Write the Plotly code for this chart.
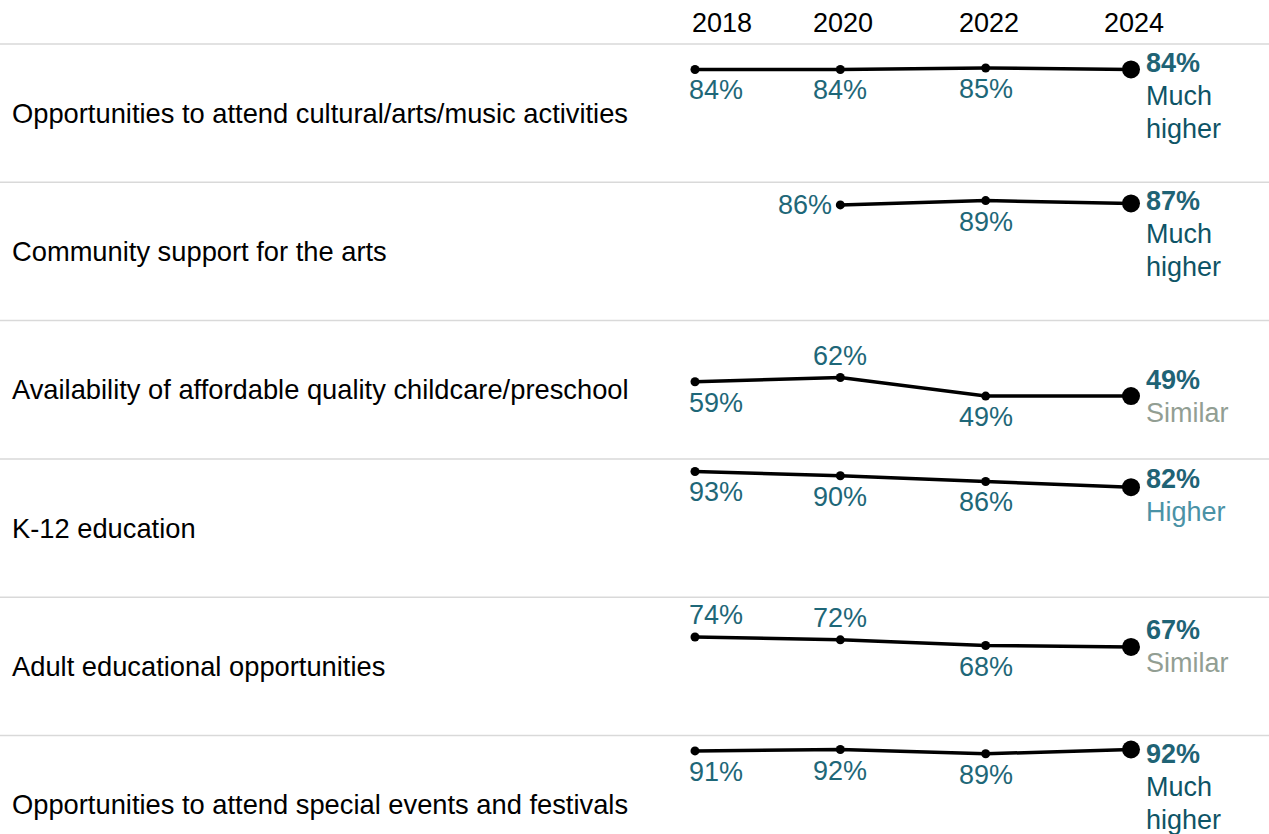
import plotly.graph_objects as go
from plotly.subplots import make_subplots

# ---- data ----
categories = [
    "Opportunities to attend cultural/arts/music activities",
    "Community support for the arts",
    "Availability of affordable quality childcare/preschool",
    "K-12 education",
    "Adult educational opportunities",
    "Opportunities to attend special events and festivals",
]
years = [2018, 2020, 2022, 2024]
vals_cultural = [84, 84, 85, 84]
vals_support = [None, 86, 89, 87]
vals_childcare = [59, 62, 49, 49]
vals_k12 = [93, 90, 86, 82]
vals_adult = [74, 72, 68, 67]
vals_events = [91, 92, 89, 92]
series = [vals_cultural, vals_support, vals_childcare, vals_k12, vals_adult, vals_events]
comparison = ["Much higher", "Much higher", "Similar", "Higher", "Similar", "Much higher"]

# ---- style ----
FONT = "Liberation Sans, Arial, sans-serif"
FS = 27
C_LABEL = "#1e6778"
C_VALUE = "#1f6375"
C_CMP = {"Much higher": "#0e5466", "Higher": "#4a92a6", "Similar": "#929e93"}
C_SEP = "#d9d9d9"

W, H = 1269, 834
TOP = 44
ROW_PX = 138.3
PX_PER_PCT = 1.43
V_TOP = 101.8
PLOT_H = H - TOP
row_px = [ROW_PX] * 5 + [PLOT_H - 5 * ROW_PX]

# where the older point labels sit relative to their dot
label_pos = [
    ["below", "below", "below"],
    [None, "left", "below"],
    ["below", "above", "below"],
    ["below", "below", "below"],
    ["above", "above", "below"],
    ["below", "below", "below"],
]
end_shift = [6, 2, 16, 8, 17, -4]

# x: 2018 at px 695, 2024 at px 1130
px_per_year = (1131 - 695) / 6
x0 = 2018 - 695 / px_per_year
x1 = x0 + W / px_per_year

fig = make_subplots(rows=6, cols=1, shared_xaxes=True, vertical_spacing=0,
                    row_heights=row_px)

for i, vals in enumerate(series):
    r = i + 1
    xs = [y for y, v in zip(years, vals) if v is not None]
    ys = [v for v in vals if v is not None]
    fig.add_trace(go.Scatter(
        x=xs, y=ys, mode="lines", line=dict(color="black", width=3.5),
        showlegend=False, hoverinfo="skip",
    ), row=r, col=1)
    fig.add_trace(go.Scatter(
        x=xs[:-1], y=ys[:-1], mode="markers",
        marker=dict(color="black", size=9), showlegend=False,
    ), row=r, col=1)
    fig.add_trace(go.Scatter(
        x=xs[-1:], y=ys[-1:], mode="markers",
        marker=dict(color="black", size=18), showlegend=False,
    ), row=r, col=1)

    yref = "y" if r == 1 else f"y{r}"
    xref = "x" if r == 1 else f"x{r}"
    # older point labels
    for j, (yr, v) in enumerate(zip(years[:-1], vals[:-1])):
        if v is None:
            continue
        side = label_pos[i][j]
        ann = dict(x=yr, y=v, xref=xref, yref=yref, text=f"{v}%",
                   showarrow=False, font=dict(size=FS, color=C_LABEL, family=FONT))
        if side == "left":
            ann.update(xanchor="right", yanchor="middle", xshift=-6, yshift=0)
        else:
            ann.update(yanchor="middle", yshift=-21 if side == "below" else 22,
                       xanchor="left" if yr == 2018 else "center",
                       xshift=-8 if yr == 2018 else 0)
        fig.add_annotation(**ann)
    # end label + comparison wording
    s = end_shift[i]
    fig.add_annotation(x=years[-1], y=vals[-1], xref=xref, yref=yref,
                       text=f"<b>{vals[-1]}%</b>", showarrow=False,
                       xanchor="left", yanchor="middle", xshift=13, yshift=s,
                       font=dict(size=FS, color=C_VALUE, family=FONT))
    for k, word in enumerate(comparison[i].split(" ")):
        fig.add_annotation(x=years[-1], y=vals[-1], xref=xref, yref=yref,
                           text=word, showarrow=False,
                           xanchor="left", yanchor="middle", xshift=13,
                           yshift=s - 33 * (k + 1),
                           font=dict(size=FS, color=C_CMP[comparison[i]], family=FONT))

    bot_v = V_TOP - row_px[i] / PX_PER_PCT
    fig.update_yaxes(range=[bot_v, V_TOP], visible=False, fixedrange=True, row=r, col=1)

    # separator + category label
    y_top = 1 - (i * ROW_PX) / PLOT_H
    fig.add_shape(type="line", xref="paper", yref="paper", x0=0, x1=1,
                  y0=y_top, y1=y_top, line=dict(color=C_SEP, width=1.5))
    fig.add_annotation(xref="paper", yref="paper", x=10 / W,
                       y=1 - (i * ROW_PX + ROW_PX / 2) / PLOT_H,
                       text=categories[i], showarrow=False,
                       xanchor="left", yanchor="middle",
                       font=dict(size=27.3, color="black", family=FONT))

fig.update_xaxes(range=[x0, x1], visible=False, fixedrange=True)

# year headers
for yr in years:
    fig.add_annotation(x=yr, xref="x", yref="paper", y=1 + 21 / PLOT_H,
                       text=str(yr), showarrow=False,
                       xanchor="left" if yr == 2018 else "center",
                       xshift=-5 if yr == 2018 else 3, yanchor="middle",
                       font=dict(size=FS, color="black", family=FONT))

fig.update_layout(
    width=W, height=H,
    margin=dict(l=0, r=0, t=TOP, b=0),
    plot_bgcolor="white", paper_bgcolor="white",
    showlegend=False,
)

fig.write_html("out.html", config={"displayModeBar": False},
               post_script="document.body.style.margin='0';")
